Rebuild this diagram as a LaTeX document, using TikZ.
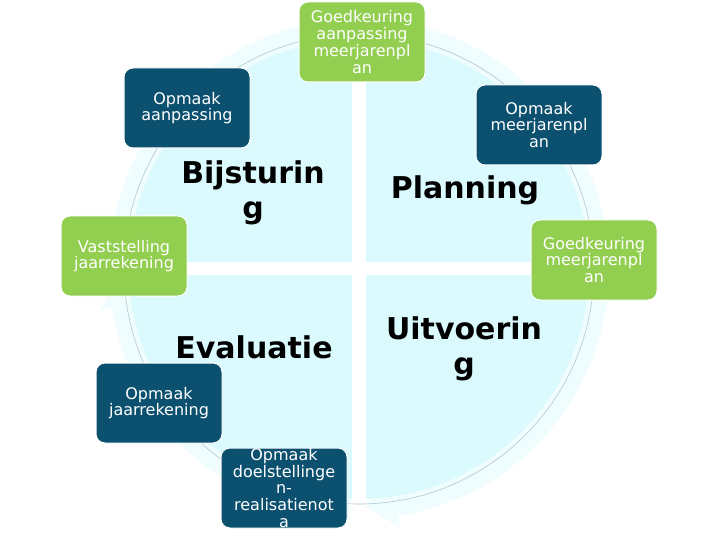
\documentclass[tikz,border=0pt]{standalone}
\usepackage{fontspec}
\setmainfont{DejaVu Sans}
\definecolor{dblue}{RGB}{12,80,112}
\definecolor{lgreen}{RGB}{146,206,80}
\definecolor{cyanA}{RGB}{218,250,254}
\definecolor{cyanB}{RGB}{240,253,254}
\definecolor{ringgray}{RGB}{178,198,208}
\begin{document}
\begin{tikzpicture}[x=1pt,y=-1pt,
 box/.style={rounded corners=9pt, draw=white, line width=1pt, minimum width=126pt, minimum height=80pt, inner sep=0pt, align=center, text=white, font=\fontsize{16}{16.7}\selectfont},
 dbox/.style={box, fill=dblue},
 gbox/.style={box, fill=lgreen},
 big/.style={align=center, font=\fontsize{30}{35}\selectfont\bfseries, inner sep=0pt}]
\useasboundingbox (0,0) rectangle (720,540);
\coordinate (C) at (359,269);
% background circular arrows
\foreach \a in {-90,0,90,180} {
  \fill[cyanB, shift={(359,269)}] (\a+2:222) arc[start angle=\a+2, end angle=\a+82, radius=222]
     -- (\a+82:250) arc[start angle=\a+82, end angle=\a+2, radius=250] -- cycle;
  \fill[cyanB, shift={(359,269)}] (\a+81:208) -- (\a+88.5:237) -- (\a+81:262) -- cycle;
}
% quadrants
\fill[cyanA] (C) circle[radius=230];
\fill[white] (352,0) rectangle (366,540);
\fill[white] (0,262) rectangle (720,275);
% connecting circle
\draw[ringgray, line width=0.6pt] (C) circle[radius=235];
% boxes
\node[gbox] (g1) at (362,42) {Goedkeuring\\aanpassing\\meerjarenpl\\an};
\node[dbox] (d1) at (187,108) {Opmaak\\aanpassing};
\node[dbox] (d2) at (539,125) {Opmaak\\meerjarenpl\\an};
\node[gbox] (g2) at (124,256) {Vaststelling\\jaarrekening};
\node[gbox] (g3) at (594,260) {Goedkeuring\\meerjarenpl\\an};
\node[dbox] (d3) at (159,403) {Opmaak\\jaarrekening};
\node[dbox] (d4) at (284,488) {Opmaak\\doelstellinge\\n-\\realisatienot\\a};
% big labels
\node[big] (bij) at (253,193) {Bijsturin\\g};
\node[big] (pla) at (465,190) {Planning};
\node[big] (eva) at (254,347) {Evaluatie};
\node[big] (uit) at (464,349) {Uitvoerin\\g};
\end{tikzpicture}
\end{document}
